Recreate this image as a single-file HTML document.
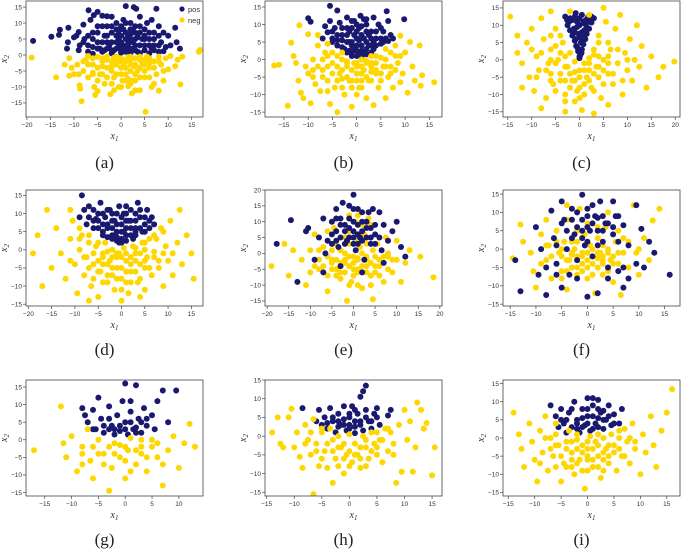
<!DOCTYPE html>
<html><head><meta charset="utf-8">
<style>
body{margin:0;background:#fff;width:685px;height:551px;overflow:hidden}
svg{display:block}
</style></head>
<body>
<svg id="fig" width="685" height="551" viewBox="0 0 685 551" xmlns="http://www.w3.org/2000/svg"></svg>
<script>
const aPos=[[-18.7,4.4],[-14.8,5.7],[-13.2,6.3],[-13,7.9],[-11.2,8.5],[-11.3,4],[-10,5.5],[-9.5,6],[-9,7.2],[-8,9.5],[-7.8,5],[-6.9,14],[-6.5,11],[-5.8,12.5],[-5,13.5],[-4,12.3],[-3,12.1],[-6,7],[-5,4],[-4.5,2],[-3.5,6],[-3,9],[-2.5,3],[-2,7],[-1.5,1.5],[-1,10],[-0.5,5],[0,3],[0.5,8],[1,15.3],[1,2],[1.5,6],[2,10],[2.5,4],[2.7,15],[3,7],[3.2,14.5],[3.5,1],[4,9],[4.5,5],[5,3],[5.5,10],[6,7],[6.5,2],[7,5],[7.5,14.5],[8,9],[8.5,4],[9,7],[9.5,2.5],[10,6],[10.5,3],[11.5,8.5],[11.8,4],[-8.8,3],[-7,1],[-2,0.5],[0,0.7],[2,0.5],[4,0.6],[6,0.5],[8,1],[-6,0.4],[-4,1],[-1,4],[1,5],[3,3],[-2,12],[0.5,11],[4,12],[6.5,11],[-9,1.5],[12.5,2],[-11.5,2],[5,6],[-3,4],[2,8],[-5,9],[7,3],[9,1.2],[-0.5,2.5],[1.5,3.5],[3.5,5.5],[-3.5,1.5]];
const aPos2=[[-7,3],[-6,5],[-5,2],[-5,7],[-4,4],[-4,9],[-3,2],[-3,6],[-2,4],[-2,9],[-1,2],[-1,6],[-1,8],[0,1.5],[0,4],[0,6],[0,9],[1,3],[1,7],[1,10],[2,2],[2,5],[2,6.5],[3,1.5],[3,5],[3,9],[4,3],[4,7],[5,1.5],[5,5],[5,8],[6,3],[6,5],[7,1.5],[7,7],[8,3],[8,6],[-6,2.5],[-7,6],[-8,4],[-2,1.5],[1,1],[-0.5,7.5],[2.5,8]];
const aNeg=[[-19,-0.8],[-13.8,-7],[-11,-1],[-10.5,-4],[-10,-6],[-9.3,-3],[-8.8,-9.5],[-8.7,-10.5],[-8.4,-14.5],[-8,-5],[-7.5,-1.5],[-7,-7],[-6,-3],[-5.7,-10],[-5.5,-12.5],[-5,-11.3],[-4.5,-6],[-4,-1],[-3.5,-9],[-3,-4],[-2.3,-12.3],[-2,-2],[-1.5,-7],[-1,-0.5],[-0.5,-10],[0,-4],[0.5,-1.5],[1,-6],[1.5,-9.8],[2,-3],[2.3,-12],[2.5,-8],[3,-1],[3.5,-5],[4,-11],[4.5,-2.5],[5,-7],[5.2,-17.8],[5.5,-0.5],[6,-4],[6.5,-10],[7,-2],[7.5,-6],[8,-11.2],[8.5,-3],[9,-8],[9.5,-1],[10,-4.5],[10.5,-0.3],[11.5,-3.5],[12,-1.5],[12.6,-9.2],[13,-0.5],[16.5,1],[16.8,1.6],[-12,-3],[-11,-6.5],[-7,-0.3],[-3,-0.5],[0,-2],[2,-0.5],[4,-1.5],[6,-1],[8,-0.5],[-5,-0.6],[1,-4],[3,-6],[-1,-3],[-2,-5],[5,-3],[-6,-6],[7,-9],[1.5,-7.5],[-4,-3.5],[2.8,-3.5],[0.3,-8],[-1.5,-11]];
const aNeg2=[[-7,-3],[-6,-1],[-5,-4],[-5,-8],[-4,-2],[-4,-6],[-3,-1.5],[-3,-7],[-2,-3.5],[-2,-9],[-1,-1.5],[-1,-6],[0,-1],[0,-6],[0,-10],[1,-2],[1,-8],[2,-1.5],[2,-5],[2,-9],[3,-3],[3,-8],[4,-0.5],[4,-4],[4,-7],[5,-1.5],[5,-5],[6,-2.5],[6,-7],[7,-4],[8,-2],[9,-5],[-8,-2],[-9,-6],[-6,-5.5],[0.5,-3.5],[1.5,-0.7],[-1.5,-0.8],[3,-11]];
const bPos=[[-10,11.8],[-9.5,10.8],[-5.5,15.3],[-4,14],[6.2,13.8],[9.8,11.5],[-6,7.8],[-5,6],[-4.5,9],[-4,4],[-3.5,10.5],[-3,7],[-2.5,3],[-2,9],[-1.5,5],[-1,11],[-1,2],[-0.5,7],[0,1],[0,4],[0.5,9],[0.8,12.5],[1,2.5],[1.5,6],[2,10],[2,1.5],[2.5,4],[3,8],[3.5,12],[3.5,3],[4,6],[4.5,10],[5,4.5],[5.5,8],[6,6],[6.5,11],[7,7],[7.5,6],[-7,6],[-6.5,9.5],[-5.5,11],[-2,12],[0,10],[1.5,11.5],[-3,5.5],[-1.5,8],[0.5,5.5],[2.5,7],[-0.5,3],[1,0.8],[-1,1],[3,2],[-2,2],[4,4],[-4,5.5],[5.5,5],[-5,5],[6.5,5.3],[-1,5],[2,5]];
const bPos2=[[-4,7],[-3,9],[-2,5],[-2,7],[-1,4],[-1,9],[0,2.5],[0,6],[0,8],[1,4],[1,7],[1,9.5],[2,3],[2,8],[3,4],[3,6],[4,8],[5,6],[5,9],[-3,3.5],[-5,8],[-1.5,2.5],[0.5,1.5],[1.5,2],[3.5,5],[-0.5,11],[2,11.5]];
const bNeg=[[-17,-1.7],[-16,-1.5],[-14.2,-13.2],[-13.5,4.8],[-13,1],[-12.5,-1],[-12,-6],[-11.8,9.8],[-11.5,-9.5],[-11,-11],[-10.5,-2],[-10,7.2],[-10,-4],[-9.5,-12.5],[-9,0],[-8.5,-7],[-8,4],[-7.5,-9],[-7,-3],[-6.5,2],[-6,-6],[-5.5,-12.7],[-5,-1],[-4.5,-8],[-4,-15],[-3.5,-4],[-3,0],[-2.5,-10],[-2,-2],[-1.5,-6],[-1,-13.5],[-0.5,-1],[0,-4],[0.5,-8],[1,0],[1.5,-3],[2,-11],[2.5,-6],[3,-1],[3.5,-13],[4,-4],[4.5,-8],[5,0.5],[5.5,-2],[6,-11],[6.5,-5],[7,2],[7.5,-8],[8,4],[8.5,-1],[9,6.8],[9.5,-4],[10,2],[10.5,-9.5],[11,5],[11.5,-2],[12,-6],[13,4],[13.2,-7.5],[13.5,-4.5],[16,-6.5],[-8,7],[-6,4.5],[6,3],[-2,-0.5],[2,-0.3],[0,-2],[-4,1],[4,1],[-1,-8],[1,-6],[3,-3.5],[-3,-5.5],[7,-2],[-9,-3],[9,-6.5],[-6,-9]];
const bNeg2=[[-8,-2],[-7,0],[-7,-5],[-6,-2],[-5,-4],[-5,2],[-4,-2],[-4,-6],[-3,-3],[-3,-8],[-2,-1],[-2,-5],[-1,-3],[-1,-6],[0,-1],[0,-6],[0,-10],[1,-2],[1,-4],[1,-8],[2,-1],[2,-5],[3,-2],[3,-6],[4,-1],[4,-3],[5,-4],[5,-6],[6,-2],[6,0],[7,-4],[8,-3],[8,1],[-6,1],[-9,-5],[9,1],[-3,2],[3,1]];
const cPos=[[0,0.5],[0.2,1.5],[-0.3,2.5],[0.5,3],[-0.7,4],[0.8,4.5],[-1,5.5],[1.2,6],[-1.5,7],[0,6.5],[1.5,7.5],[-2,8.5],[0.5,8],[2,9],[-0.5,9.5],[-2.5,10],[1,10.5],[2.5,10.8],[-1.5,11.5],[0,12],[1.8,12.5],[-3,12.5],[3,12],[-0.8,13.5],[0.3,5],[-0.2,7.5],[0.8,11],[-1.2,9],[-2.2,11],[1.5,9.5]];
const cPos2=[[0,1],[-0.4,3.5],[0.4,2],[0.6,6.5],[-0.8,6],[1,8.5],[-1,8],[0,10],[-0.5,11],[1.3,11.5],[2,11],[-2,12],[-1,12.5],[0.5,13],[2.5,12.5],[-2.6,11.5]];
const cNeg=[[-14.5,12.5],[-13,2],[-12,-1],[-11,5],[-10.5,-5],[-10,9],[-9.5,-9],[-9,1],[-8.5,-3],[-8,12],[-7.5,6],[-7,-11],[-6.5,-1],[-6,3],[-5.5,-7],[-5,9],[-4.5,0],[-4,-4],[-3.5,5],[-3,-12],[-2.5,-2],[-2,2],[-1.5,-6],[-1,-0.5],[-0.5,-9],[0,-3],[0.5,-14.5],[1,-1],[1.5,-5],[2,0.5],[2.5,-8],[3,3],[3.5,-2],[4,7],[4.5,-11],[5,0],[5.5,11],[6,-4],[6.5,3],[7,-7],[7.5,9],[8,-1],[8.5,13],[9,-10],[9.5,2],[10,-3],[10.5,6],[11,-6],[11.5,0],[12,10],[12.5,-2],[13,4],[14,-8],[15,1],[16.5,-5],[17.5,-2],[19.8,-0.5],[-12,-8],[-13,7],[-6,14],[5,15],[-2,14],[2,13],[-3,-15],[3,-15.5],[-8,-14],[6,-13],[-5,4],[4,-5],[-1,-3.5],[1,-7],[-3,-6],[2,-3],[-4,7],[4,5],[-6,-4],[6,1],[0,-11]];
const cNeg2=[[-7,-3],[-6,-6],[-5,-1],[-5,-9],[-4,-6],[-4,2],[-3,-2],[-3,-10],[-2,-4],[-2,-8],[-1,-6],[-1,-12],[0,-5],[0,-8],[1,-3],[1,-10],[2,-6],[2,-1],[3,-4],[3,-9],[4,-2],[4,1],[5,-3],[5,-7],[6,-1],[7,-4],[-6,0],[-8,2],[-9,-5],[8,3],[9,-6],[3,1.5],[-3,1],[6,5],[-6,7],[-10,3],[10,0]];
const dPos=[[-8.5,15],[-8,11],[-7,12],[-6,8],[-5,10],[-5,6],[-4.5,13],[-4,4],[-3.5,9],[-3,6],[-2.5,11],[-2,3],[-1.5,8],[-1,5],[-0.5,12],[0,2],[0,7],[0.5,10],[1,4],[1.5,8],[2,11],[2.5,3],[3,6],[3.5,13],[4,9],[4.5,5],[5,7],[5.5,11],[6,6],[6.5,9],[7,7],[-9,9],[-7.5,7],[-2,10],[1,12],[3,10],[-3,3.5],[1,2.5],[-1,2.5],[3,4],[-4,7],[-6,11],[2,6],[-1.5,4],[0.5,5],[-5.5,8.5],[5,9]];
const dPos2=[[-6,6],[-5,8],[-4,5],[-4,10],[-3,7],[-3,11],[-2,4],[-2,6],[-2,8],[-1,3.5],[-1,7],[-1,10],[0,3],[0,5],[0,9],[1,6],[1,8],[1,10],[2,4],[2,8],[3,5],[3,8],[4,6],[4,11],[-7,9],[5,5],[6,8],[-0.5,2]];
const dNeg=[[-19,-1],[-18,4],[-17,-10],[-16,11],[-15,-5],[-14,6],[-13,-1],[-12,-8],[-11,3],[-10.5,8],[-10,-4],[-9.5,-12],[-9,0],[-8.5,4],[-8,-7],[-7.5,-2],[-7,2],[-6.5,-10],[-6,-4],[-5.5,1],[-5,-13],[-4.5,-6],[-4,-1],[-3.5,2],[-3,-9],[-2.5,-3],[-2,0],[-1.5,-11],[-1,-5],[-0.5,-1],[0,-8],[0.5,0.5],[1,-3],[1.5,-12],[2,-6],[2.5,1],[3,-1],[3.5,-9],[4,-4],[4.5,2],[5,-11],[5.5,-2],[6,3],[6.5,-7],[7,-0.5],[7.5,3],[8,-5],[8.5,6],[9,-10],[9.5,1],[10,-3],[10.5,8],[11,-7],[12,2],[12.5,11],[13,-4],[14,4],[15,-1],[15.5,-8],[-11,11],[-7,-14],[0,-14],[4,-13],[9,5],[-9,6],[-3,-0.5],[3,0.5],[-1,-2],[1,-1],[-4,-4],[5,-5],[-2,-7],[2,-9]];
const dNeg2=[[-8,-2],[-7,-5],[-6,-1],[-6,-8],[-5,-3],[-5,-6],[-4,-2],[-4,-9],[-3,-4],[-3,-7],[-2,-2],[-2,-5],[-1,-1],[-1,-8],[0,-2],[0,-5],[0,-11],[1,-6],[1,-9],[2,-2],[2,-4],[3,-3],[3,-6],[4,-1],[4,-8],[5,0],[5,-3],[6,-5],[7,-2],[8,-3],[-9,3],[9,-1],[-11,-3],[11,-1],[-5,2],[5,2],[-7,4],[7,4]];
const ePos=[[-17.8,3],[-14.5,10.5],[-13,-9],[-11,7],[-10.5,8],[-9,-2],[-8,5],[-7,11],[-6.5,0],[-5,6],[-4,14],[-3.5,2],[-3,9],[-2.5,16],[-1.5,4],[-1,11],[0,18.5],[0,7],[0.5,1],[1,14],[1.5,5],[2,10],[2.5,-2],[3,8],[3.5,13],[4,3],[4.5,14],[5,6],[6,13],[6.5,1],[7,9],[8,4],[9,7],[10,10],[11,2],[12,-1],[-2,7],[-5,10],[2,13],[-1,5],[1,9],[3,5],[-4,4],[4,8],[-6,4],[6,5],[0,3],[-3,-4],[2,-6],[-7,-6],[7,-3]];
const ePos2=[[-4,7],[-3,5],[-3,11],[-2,3],[-2,9],[-1,8],[0,5],[0,10],[1,3],[1,6],[2,7],[2,4],[3,10],[4,5],[5,9],[5,3],[-5,3],[-4,11],[0,14],[-1,15]];
const eNeg=[[-19,-4],[-16,3],[-15,-7],[-14,1],[-12,-2],[-11,-10],[-10,1],[-9,6],[-8,-5],[-7,2],[-6,-12],[-5,-2],[-4.5,8],[-4,-7],[-3,1],[-1.5,-15],[-2,-3],[-1,3],[-0.5,-9],[0,-1],[0.5,10],[1,-5],[1.5,2],[2,-11],[2.5,6],[3,-2],[3.5,11],[4,-7],[4.5,1],[4.5,-14.5],[5.5,3],[6,-4],[7,-9],[7.5,5],[8,-1],[9,-6],[10,4],[11,-9],[12,-3],[13,1],[15.5,-1],[18.5,-7.5],[-6,7],[-1,7],[2,9],[-3,-8],[1,-1.5],[-2,0],[3,-4],[-5,-5],[5,-6],[0,-5],[-8,1],[8,0],[-1,12],[1,12],[4,9]];
const eNeg2=[[-8,-2],[-7,-4],[-6,-1],[-6,-7],[-5,-3],[-5,1],[-4,-2],[-4,-5],[-3,-3],[-3,-6],[-2,-2],[-2,-6],[-1,-1],[-1,-4],[-1,-10],[0,-3],[0,-7],[1,-2],[1,-6],[1,-10],[2,-4],[2,0],[3,-1],[3,-6],[4,-3],[4,-10],[5,-1],[5,-4],[6,-2],[6,-7],[7,-1],[8,-5],[9,-2],[-9,-4],[-10,-6],[10,-2],[-2,5],[1,4],[3,3],[-4,3]];
const fPos=[[-14,-3],[-13,-11.5],[-10,6],[-9.5,-7],[-9,0],[-8,-12.5],[-7,10.5],[-6.5,3],[-6,-4],[-5,13],[-5,-10.5],[-4.5,8],[-4,0],[-3.5,-7],[-3,11],[-2.5,4],[-2,-3],[-1,14.8],[-1,8],[-0.5,1],[0,-13],[0,11],[0.5,5],[1,-2],[1.5,9],[2,-12],[2.5,13],[3,2],[3.5,7],[4,-5],[5,13],[5,4],[5.5,9],[6,-6],[7,6.5],[7,-10.5],[8,1],[9.5,12],[9.5,-4],[10.5,5.5],[11,-5],[12,2],[13,-1],[16,-7],[-2,6],[1,7],[-4,5],[3,5],[-1,3],[2,8.5],[0,6],[-6,1],[6,2]];
const fPos2=[[-3,8],[-2,10],[-1,5],[0,9],[1,12],[2,5],[3,9],[4,7],[-5,7],[-3,3],[0,2],[2,1],[5,6],[6,9],[-6,-7],[-2,-8],[4,-8],[7,-5],[-8,-5],[8,-8]];
const fNeg=[[-14.5,-2.5],[-13,6.7],[-12.5,2],[-11,-1],[-10.5,-6],[-10,-10.5],[-9,4],[-8,-3],[-7.5,1],[-7,-8],[-6,5],[-5.5,-1],[-5,-6],[-4.5,2],[-4,-11],[-3.5,-3],[-3,8],[-2.5,0],[-2,-5],[-1.5,11],[-1,-2],[-0.5,4],[0,-8],[0.5,1],[1,-4],[1.5,-12],[2,3],[2.5,-1],[3,-7],[3.5,6],[4,0],[4.5,-3],[5,-9],[5.5,2],[6,-1],[6.5,-12.5],[7,3],[8,-5],[9,12],[9.5,-1],[10,-7],[11,3],[12,-3],[12.7,7.8],[14,11],[-8,8],[-3,-1.5],[0,-1],[2,-2.5],[-1,-4],[1,0],[3,-3],[-5,0],[5,-4],[-2,2],[-4,12]];
const fNeg2=[[-7,-2],[-6,-4],[-5,-2],[-5,-8],[-4,-3],[-4,-6],[-3,-1],[-3,-5],[-2,-2],[-2,-7],[-1,-1],[-1,-6],[0,-3],[0,-5],[1,-2],[1,-7],[2,-1],[2,-5],[3,-2],[3,-4],[4,-1],[4,-6],[5,-2],[6,-4],[7,-1],[-8,1],[8,2],[-2,5],[0,7],[2,6],[-4,8],[4,10],[-6,2],[6,5],[-9,-4],[10,0],[-3,2],[3,1]];
const gPos=[[-8,9],[-7.5,7],[-7,5],[-6,8.5],[-5.5,3],[-5,12],[-4.5,6],[-4,2],[-3,9.5],[-2.5,4],[-2,1.5],[-1.5,7],[-1,2.5],[-0.5,11],[0,16],[0,5],[0.5,1.5],[1,8],[1.5,3],[2,15.5],[2.5,6],[3,2],[3.5,9],[4,4],[5,7],[5.5,3],[6,11],[7,14],[8,5],[9.5,14],[-6,3],[-3,3],[2,3.5]];
const gPos2=[[-3,6],[-1,4],[1,5],[3,5],[0,3],[2,2],[-2,3],[4,6],[-4,4],[1,11]];
const gNeg=[[-17,-3],[-12,9.5],[-11.5,-1],[-11,-5],[-10,1],[-9,-9],[-8,-2],[-7,3],[-6.5,-6],[-6,-11],[-5,0],[-4,-4],[-3,-14.5],[-2.5,-8],[-2,-1],[-1,-5],[0,-11],[0.5,-3],[1,0.5],[2,-7],[3,-2],[4,-9],[5,0],[6,-5],[7,-13],[8,-3],[9,1],[10,-8],[11,-1],[12,4.5],[13,-2],[-8,-7],[3,-4],[-1,-1.5],[6,-1]];
const gNeg2=[[-6,-2],[-4,-7],[-2,-4],[0,-2],[0,-6],[2,-3],[4,-5],[5,-2],[-3,-2],[1,-9],[7,-7],[-8,-4],[3,0],[-5,-4]];
const hPos=[[-8.5,7.5],[-6,4],[-5.5,7],[-5,3],[-4.5,5],[-4,2],[-3.5,7.5],[-3,4],[-2.5,1],[-2,6],[-1.5,3],[-1,8],[-0.5,1.5],[0,5],[0.5,8],[1,2.5],[1.5,6],[2,10.5],[2.5,12],[2.5,1.5],[3,13.5],[3,7],[3.5,4],[4,2],[4.5,6],[5,7.5],[5.5,3],[7,5.5],[7.5,7],[-2,2.5],[0,3],[2,4],[-1,4.5],[1,0.8]];
const hPos2=[[-3,5],[-1,3],[0,6],[1,4],[2,3],[3,5],[4,4],[-2,4],[0,2],[1,7],[-4,3.5],[5,5]];
const hNeg=[[-14,1],[-13,5],[-12.5,-2],[-12,-3],[-11,5],[-10.5,7.3],[-10,-3],[-9.5,1],[-9,-5.5],[-8.5,-8.5],[-8,3],[-7.5,-1],[-7,-5],[-6.5,4.5],[-6.5,-15.5],[-6,-2],[-5.5,-8],[-5,1],[-4.5,-4],[-4,-8.5],[-3.5,2],[-3,-12.5],[-3,-1],[-2.5,-6],[-2,0],[-1.5,-3],[-1,-10],[-0.5,-5],[0,0.5],[0.5,-7],[1,-2],[1.5,-5],[2,-8.5],[2.5,0],[3,-3],[3.5,-6],[4,1],[4.5,-2],[5,-5],[5.5,-1],[6,-7],[6.5,2],[7,-4],[7.5,1],[8,-2],[8.5,-12.5],[9,3],[9.5,-9.5],[10,7],[10.5,-1],[11,4],[11.5,-9.5],[12,-3],[12.3,9],[13,7],[13.5,2],[14,3.5],[15,-10.5],[15.5,-3]];
const hNeg2=[[-6,-4],[-5,-6],[-4,-2],[-3,-4],[-2,-3],[-2,-8],[-1,-2],[-1,-6],[0,-4],[0,-8],[1,-5],[2,-3],[2,-6],[3,-1],[3,-8],[4,-4],[5,-3],[6,-1],[-7,1],[-5,2],[5,1],[7,2],[-8,-2],[8,-5]];
const iPos=[[-7,9],[-6,6],[-5.5,3],[-5,8],[-4.5,4],[-4,1.5],[-3.5,7],[-3,3],[-2.5,10],[-2,5],[-1.5,1.5],[-1,8],[-0.5,3.5],[0,11],[0,6],[0.5,2],[1,9],[1.5,4],[2,10.5],[2.5,7],[3,2.5],[3.5,5],[4,9],[4.5,3.5],[5,6.5],[6,4],[6.5,8],[-2,2.5],[1,2.5],[2,5.5],[-1,5.5],[3,7.5]];
const iPos2=[[-4,5],[-3,8],[-2,4],[-1,3],[0,4],[0,8],[1,6],[2,3],[2,8],[3,5],[4,6],[-5,5],[5,4],[1,11]];
const iNeg=[[-14,7],[-13,1],[-12.5,-3],[-12,-8],[-11,4],[-10.5,-1],[-10,-6],[-9.5,-12],[-9,2],[-8.5,-4],[-8,6],[-7.5,-9],[-7,0],[-6.5,-5],[-6,4],[-5.5,-2],[-5,-12],[-4.5,-7],[-4,-1],[-3.5,2],[-3,-4],[-2.5,-10],[-2,-0.5],[-1.5,-6],[-1,-2],[-0.5,-14],[0,-3],[0.5,0.5],[1,-8],[1.5,-1],[2,-5],[2.5,-11],[3,0],[3.5,-3],[4,-7],[4.5,1],[5,-2],[5.5,-9],[6,0],[6.5,-5],[7,2.5],[7.5,-1],[8,-7],[8.5,4],[9,-3],[10,-10],[10.5,1],[11,-4],[12,6],[12.5,-2],[13,-8],[14,2],[15,7],[16,13.5],[-3,-8],[3,-6],[0,-6],[-6,-8]];
const iNeg2=[[-7,-3],[-6,-2],[-5,-5],[-4,-3],[-4,-8],[-3,-1],[-3,-6],[-2,-3],[-2,-7],[-1,-4],[-1,-9],[0,-1],[0,-5],[0,-9],[1,-3],[1,-6],[2,-2],[2,-8],[3,-4],[3,-9],[4,-2],[4,-5],[5,-4],[6,-3],[7,-5],[-8,0],[8,0],[-6,1],[6,2],[-9,-7],[9,-1],[-2,1],[2,1]];
const panelLabels=["(a)","(b)","(c)","(d)","(e)","(f)","(g)","(h)","(i)"];
const xTicks=[[-20,-15,-10,-5,0,5,10,15],[-15,-10,-5,0,5,10,15],[-15,-10,-5,0,5,10,15,20],[-20,-15,-10,-5,0,5,10,15],[-20,-15,-10,-5,0,5,10,15,20],[-15,-10,-5,0,5,10,15],[-15,-10,-5,0,5,10],[-15,-10,-5,0,5,10,15],[-15,-10,-5,0,5,10,15]];
const yTicks=[[-15,-10,-5,0,5,10,15],[-15,-10,-5,0,5,10,15],[-15,-10,-5,0,5,10,15],[-15,-10,-5,0,5,10,15],[-15,-10,-5,0,5,10,15,20],[-15,-10,-5,0,5,10,15],[-15,-10,-5,0,5,10,15],[-15,-10,-5,0,5,10,15],[-15,-10,-5,0,5,10,15]];
const xDomains=[[-20.2,17.4],[-18.9,17.6],[-16,21],[-20.5,17.5],[-20.5,20.5],[-16.4,18],[-18.5,14.5],[-15.3,16.8],[-16,17.5]];
const yDomains=[[-19.4,16.9],[-16.4,16.7],[-16.5,17],[-15.5,16.5],[-16.6,20],[-15.5,16.1],[-16,17],[-16,15],[-16,16]];
const posSets=[aPos.concat(aPos2),bPos.concat(bPos2),cPos.concat(cPos2),dPos.concat(dPos2),ePos.concat(ePos2),fPos.concat(fPos2),gPos.concat(gPos2),hPos.concat(hPos2),iPos.concat(iPos2)];
const negSets=[aNeg.concat(aNeg2),bNeg.concat(bNeg2),cNeg.concat(cNeg2),dNeg.concat(dNeg2),eNeg.concat(eNeg2),fNeg.concat(fNeg2),gNeg.concat(gNeg2),hNeg.concat(hNeg2),iNeg.concat(iNeg2)];

const NS="http://www.w3.org/2000/svg";
const svg=document.getElementById('fig');
function mk(tag,attrs,parent){const e=document.createElementNS(NS,tag);for(const k in attrs)e.setAttribute(k,attrs[k]);(parent||svg).appendChild(e);return e;}
const colL=[26,265,503],rowT=[1,190,380],W=177,H=116,labY=[168,355,545];
const POS="#191970",NEG="#ffd700";
for(let p=0;p<9;p++){
  const c=p%3,r=Math.floor(p/3),L=colL[c],T=rowT[r];
  const g=mk('g',{});
  
  
  const [x0,x1]=xDomains[p],[y0,y1]=yDomains[p];
  const sx=v=>L+(v-x0)/(x1-x0)*W, sy=v=>T+H-(v-y0)/(y1-y0)*H;
  const clip=mk('clipPath',{id:'cl'+p},g);mk('rect',{x:L,y:T,width:W,height:H},clip);
  const pts=mk('g',{'clip-path':'url(#cl'+p+')'},g);
  
  
  const drawSet=(set,col,nm)=>{for(const d of set){const e=mk('circle',{cx:sx(d[0]).toFixed(1),cy:sy(d[1]).toFixed(1),r:3,fill:col},pts);
    
    }};
  if(p===4||p===5){drawSet(negSets[p],NEG,'neg-point');drawSet(posSets[p],POS,'pos-point');}
  else{drawSet(posSets[p],POS,'pos-point');drawSet(negSets[p],NEG,'neg-point');}
  const fr=mk('rect',{x:L,y:T,width:W,height:H,fill:'none',stroke:'#444','stroke-width':0.8},g);
  
  
  for(const t of xTicks[p]){const x=sx(t);mk('line',{x1:x,x2:x,y1:T+H,y2:T+H+3,stroke:'#444','stroke-width':0.7},g);
    const tx=mk('text',{x:x,y:T+H+10,'font-size':6.5,'text-anchor':'middle',fill:'#333','font-family':'Liberation Sans, sans-serif'},g);tx.textContent=t<0?'\u2212'+(-t):t;
    
    }
  for(const t of yTicks[p]){const y=sy(t);mk('line',{x1:L-3,x2:L,y1:y,y2:y,stroke:'#444','stroke-width':0.7},g);
    const tx=mk('text',{x:L-4,y:y+2.3,'font-size':6.5,'text-anchor':'end',fill:'#333','font-family':'Liberation Sans, sans-serif'},g);tx.textContent=t<0?'\u2212'+(-t):t;
    
    }
  const xl=mk('text',{x:L+W/2,y:T+H+22,'font-size':10,'text-anchor':'middle','font-style':'italic',fill:'#333','font-family':'Liberation Serif, serif'},g);
  xl.innerHTML='x<tspan font-size="7" dy="2">1</tspan>';
  
  
  const yl=mk('text',{x:0,y:0,'font-size':10,'text-anchor':'middle','font-style':'italic',fill:'#333','font-family':'Liberation Serif, serif',transform:'translate('+(L-19)+','+(T+H/2)+') rotate(-90)'},g);
  yl.innerHTML='x<tspan font-size="7" dy="2">2</tspan>';
  
  
  const pl=mk('text',{x:L+W/2-10,y:labY[r],'font-size':17,'text-anchor':'middle',fill:'#222','font-family':'Liberation Serif, serif'},g);
  pl.textContent=panelLabels[p];
  
  
  if(p===0){
    const lg=mk('g',{},g);
    
    
    mk('circle',{cx:182,cy:9,r:2.6,fill:POS},lg);
    mk('circle',{cx:182,cy:20,r:2.6,fill:NEG},lg);
    const t1=mk('text',{x:188,y:12,'font-size':7.5,fill:'#333','font-family':'Liberation Sans, sans-serif'},lg);t1.textContent='pos';
    
    
    const t2=mk('text',{x:188,y:23,'font-size':7.5,fill:'#333','font-family':'Liberation Sans, sans-serif'},lg);t2.textContent='neg';
    
    
  }
}
</script>
</body></html>
